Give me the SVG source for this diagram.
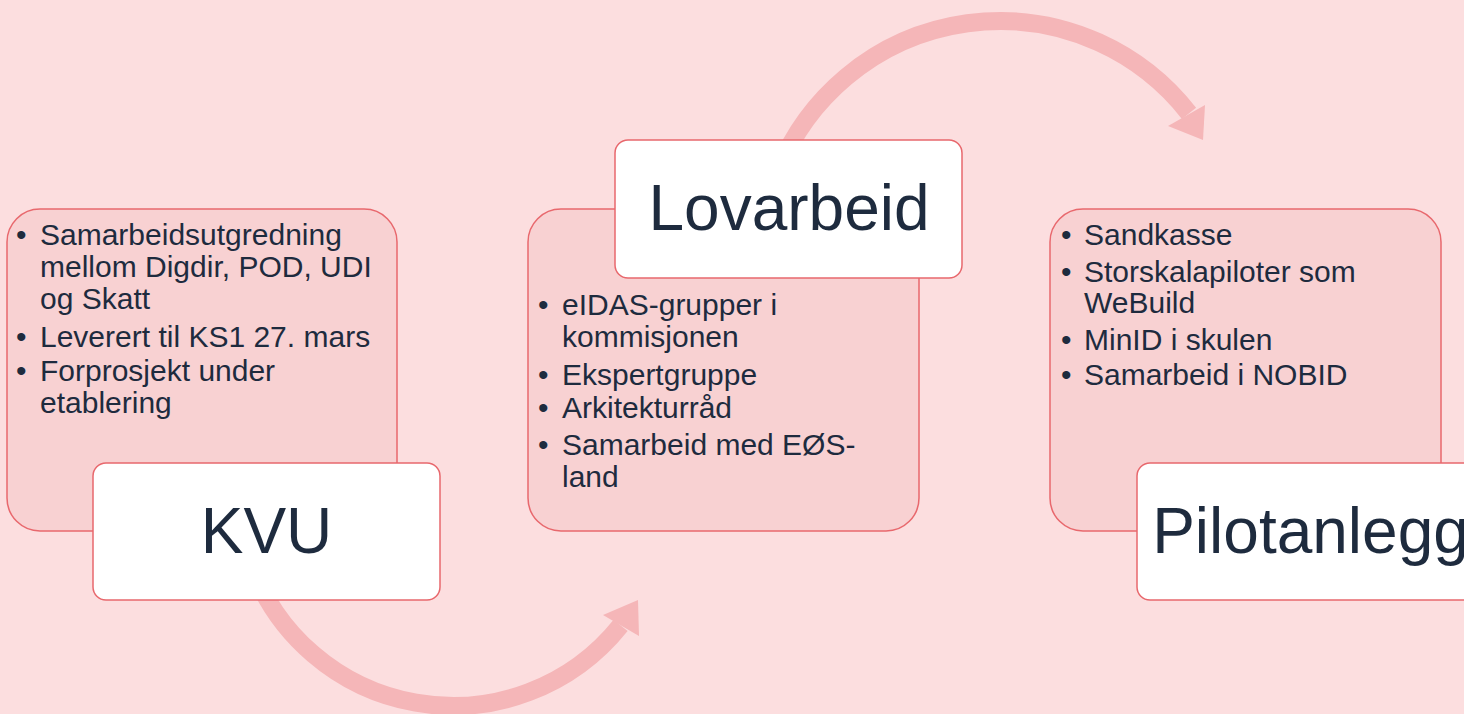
<svg xmlns="http://www.w3.org/2000/svg" width="1464" height="714" viewBox="0 0 1464 714">
<style>
.panel{fill:#F8D1D2;stroke:#E8686D;stroke-width:1.5}
.box{fill:#FFFFFF;stroke:#E8686D;stroke-width:1.5}
.t{font-family:"Liberation Sans",Arial,sans-serif;fill:#1E2B3E}
.item{font-size:30px}
.title{font-size:64px;text-anchor:middle}
.arc{fill:none;stroke:#F5B6B8;stroke-width:18}
.head{fill:#F5B6B8}
</style>
<rect width="1464" height="714" fill="#FCDEDF"/>
<g id="connectors">
<path class="arc" d="M 249.7 560 A 214.5 214.5 0 0 0 620.6 625.3"/>
<polygon class="head" points="638,600 603,615 639,636"/>
<path class="arc" d="M 778.3 170 A 239.5 239.5 0 0 1 1189 113.4"/>
<polygon class="head" points="1203,140 1168,126 1205,105"/>
</g>
<g id="node-kvu">
<rect class="panel" x="7" y="209" width="390" height="322" rx="33"/>
<text class="t item" x="16" y="245">•</text>
<text class="t item" x="40" y="245">Samarbeidsutgredning</text>
<text class="t item" x="40" y="277">mellom Digdir, POD, UDI</text>
<text class="t item" x="40" y="309">og Skatt</text>
<text class="t item" x="16" y="347">•</text>
<text class="t item" x="40" y="347">Leverert til KS1 27. mars</text>
<text class="t item" x="16" y="381">•</text>
<text class="t item" x="40" y="381">Forprosjekt under</text>
<text class="t item" x="40" y="413">etablering</text>
<rect class="box" x="93" y="463" width="347" height="137" rx="13"/>
<text class="t title" x="266.5" y="553">KVU</text>
</g>
<g id="node-lovarbeid">
<rect class="panel" x="528" y="209" width="391" height="322" rx="33"/>
<text class="t item" x="538" y="315">•</text>
<text class="t item" x="562" y="315">eIDAS-grupper i</text>
<text class="t item" x="562" y="347">kommisjonen</text>
<text class="t item" x="538" y="385">•</text>
<text class="t item" x="562" y="385">Ekspertgruppe</text>
<text class="t item" x="538" y="418">•</text>
<text class="t item" x="562" y="418">Arkitekturråd</text>
<text class="t item" x="538" y="455">•</text>
<text class="t item" x="562" y="455">Samarbeid med EØS-</text>
<text class="t item" x="562" y="487">land</text>
<rect class="box" x="615" y="140" width="347" height="138" rx="13"/>
<text class="t title" x="789" y="230">Lovarbeid</text>
</g>
<g id="node-pilotanlegg">
<rect class="panel" x="1050" y="209" width="391" height="322" rx="33"/>
<text class="t item" x="1061" y="245">•</text>
<text class="t item" x="1084" y="245">Sandkasse</text>
<text class="t item" x="1061" y="282">•</text>
<text class="t item" x="1084" y="282">Storskalapiloter som</text>
<text class="t item" x="1084" y="313">WeBuild</text>
<text class="t item" x="1061" y="350">•</text>
<text class="t item" x="1084" y="350">MinID i skulen</text>
<text class="t item" x="1061" y="385">•</text>
<text class="t item" x="1084" y="385">Samarbeid i NOBID</text>
<rect class="box" x="1137" y="463" width="347" height="137" rx="13"/>
<text class="t title" x="1310.5" y="553">Pilotanlegg</text>
</g>
</svg>
